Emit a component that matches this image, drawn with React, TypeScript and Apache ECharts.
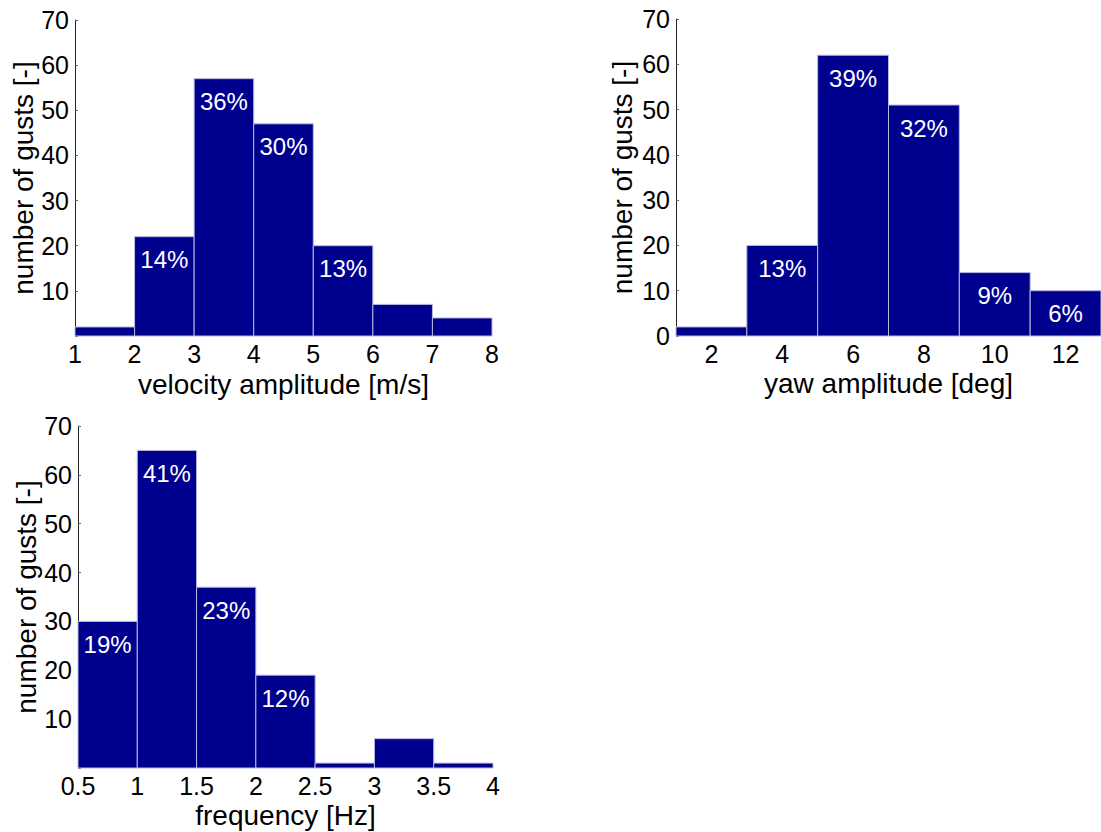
import React, { useEffect, useRef } from "react";
import * as echarts from "echarts";

// Panel 1: velocity amplitude histogram (bin edges in m/s)
const velEdges = [1, 2, 3, 4, 5, 6, 7, 8];
const velCounts = [2, 22, 57, 47, 20, 7, 4];
const velLabels = ["", "14%", "36%", "30%", "13%", "", ""];

// Panel 2: yaw amplitude histogram (bin edges in deg)
const yawEdges = [1, 3, 5, 7, 9, 11, 13];
const yawCounts = [2, 20, 62, 51, 14, 10];
const yawLabels = ["", "13%", "39%", "32%", "9%", "6%"];
const yawTicks = [2, 4, 6, 8, 10, 12];

// Panel 3: frequency histogram (bin edges in Hz)
const freqEdges = [0.5, 1, 1.5, 2, 2.5, 3, 3.5, 4];
const freqCounts = [30, 65, 37, 19, 1, 6, 1];
const freqLabels = ["19%", "41%", "23%", "12%", "", "", ""];

const yTitle = "number of gusts [-]";
const FONT = "'Liberation Sans', Arial, Helvetica, sans-serif";
const BAR = "#00008f";
const EDGE = "#b8b8e0";

function binData(edges: number[], counts: number[]) {
  return counts.map((c, i) => [edges[i], edges[i + 1], c]);
}

function makeRender(labels: string[]) {
  return function renderBin(params: any, api: any) {
    const x0 = api.value(0);
    const x1 = api.value(1);
    const v = api.value(2);
    const lbl = labels[params.dataIndex];
    const p0 = api.coord([x0, 0]);
    const p1 = api.coord([x1, v]);
    const children: any[] = [
      {
        type: "rect",
        shape: { x: p0[0], y: p1[1], width: p1[0] - p0[0], height: p0[1] - p1[1] },
        style: { fill: BAR, stroke: EDGE, lineWidth: 1 },
      },
    ];
    if (lbl) {
      children.push({
        type: "text",
        z2: 10,
        style: {
          text: lbl,
          x: (p0[0] + p1[0]) / 2,
          y: p1[1] + 11,
          align: "center",
          verticalAlign: "top",
          fill: "#ffffff",
          fontSize: 24,
          fontFamily: FONT,
        },
      });
    }
    return { type: "group", children };
  };
}

function yAxisCfg(gridIndex: number, showZero: boolean, nameGap: number) {
  return {
    type: "value",
    gridIndex,
    min: 0,
    max: 70,
    interval: 10,
    name: yTitle,
    nameLocation: "middle",
    nameRotate: 90,
    nameGap,
    nameTextStyle: { fontSize: 28, color: "#000", fontFamily: FONT },
    axisLine: { show: true, lineStyle: { color: "#222", width: 1 } },
    axisTick: { show: true, inside: true, length: 3, lineStyle: { color: "#666" } },
    splitLine: { show: false },
    axisLabel: {
      fontSize: 25,
      color: "#000",
      fontFamily: FONT,
      margin: 6,
      formatter: (v: number) => (v === 0 && !showZero ? "" : String(v)),
    },
  };
}

function xAxisCfg(gridIndex: number, min: number, max: number, interval: number, name: string, nameGap: number, custom?: number[]) {
  const label: any = {
    fontSize: 25,
    color: "#000",
    fontFamily: FONT,
    margin: 5,
    showMinLabel: true,
    showMaxLabel: true,
  };
  if (custom) label.customValues = custom;
  return {
    type: "value",
    gridIndex,
    min,
    max,
    interval,
    name,
    nameLocation: "middle",
    nameGap,
    nameTextStyle: { fontSize: 28, color: "#000", fontFamily: FONT },
    axisLine: { show: false },
    axisTick: { show: false },
    splitLine: { show: false },
    axisLabel: label,
  };
}

export default function App() {
  const ref = useRef<HTMLDivElement>(null);
  useEffect(() => {
    if (!ref.current) return;
    const chart = echarts.init(ref.current, undefined, { renderer: "svg" });
    chart.setOption({
      animation: false,
      backgroundColor: "#ffffff",
      grid: [
        { left: 75, top: 20, width: 417, height: 316 },
        { left: 676, top: 19, width: 428, height: 317 },
        { left: 78, top: 426, width: 415, height: 342 },
      ],
      xAxis: [
        xAxisCfg(0, 1, 8, 1, "velocity amplitude [m/s]", 34),
        xAxisCfg(1, 1, 13, 1, "yaw amplitude [deg]", 33, yawTicks),
        xAxisCfg(2, 0.5, 4, 0.5, "frequency [Hz]", 33),
      ],
      yAxis: [yAxisCfg(0, false, 36), yAxisCfg(1, true, 40), yAxisCfg(2, false, 37)],
      series: [
        {
          type: "custom",
          xAxisIndex: 0,
          yAxisIndex: 0,
          renderItem: makeRender(velLabels),
          data: binData(velEdges, velCounts),
          encode: { x: [0, 1], y: 2 },
        },
        {
          type: "custom",
          xAxisIndex: 1,
          yAxisIndex: 1,
          renderItem: makeRender(yawLabels),
          data: binData(yawEdges, yawCounts),
          encode: { x: [0, 1], y: 2 },
        },
        {
          type: "custom",
          xAxisIndex: 2,
          yAxisIndex: 2,
          renderItem: makeRender(freqLabels),
          data: binData(freqEdges, freqCounts),
          encode: { x: [0, 1], y: 2 },
        },
      ],
    });
    return () => chart.dispose();
  }, []);
  return (
    <div
      ref={ref}
      style={{ position: "fixed", left: 0, top: 0, width: 1101, height: 832, background: "#fff" }}
    />
  );
}
